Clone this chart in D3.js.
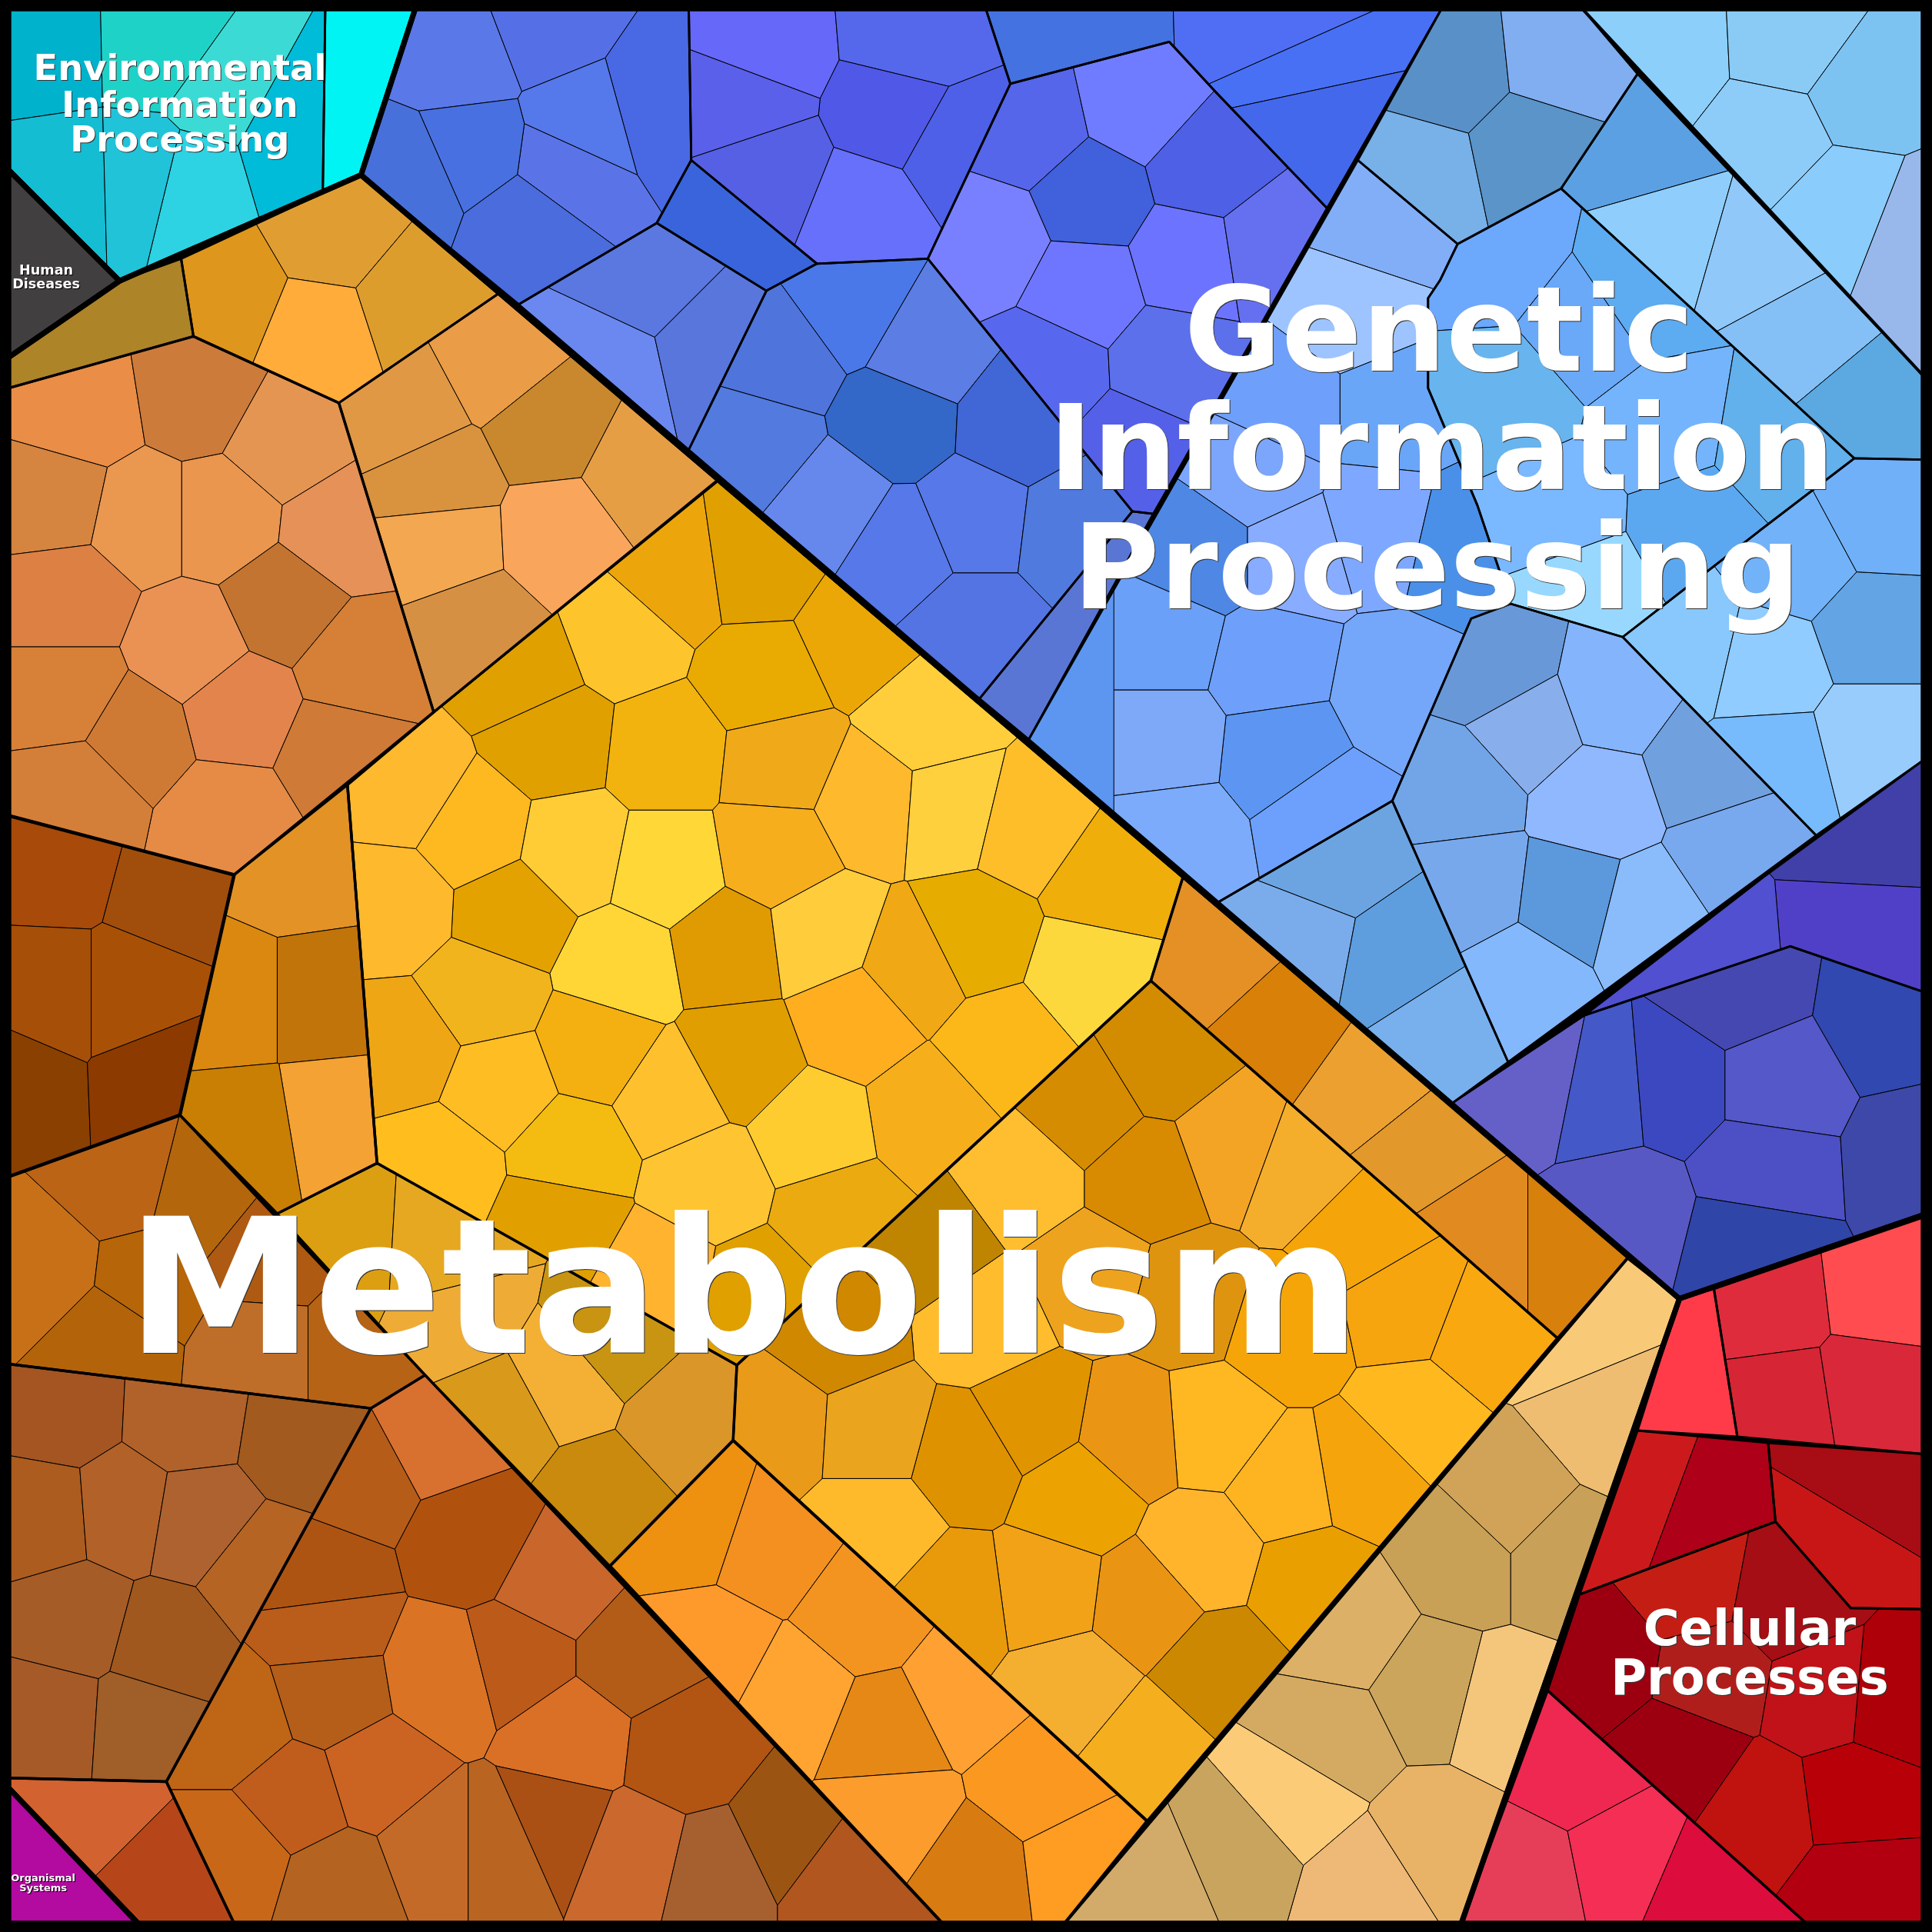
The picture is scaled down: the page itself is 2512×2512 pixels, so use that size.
<!DOCTYPE html>
<html>
<head>
<meta charset="utf-8">
<script src="https://cdn.jsdelivr.net/npm/d3@7"></script>
<style>
  html, body { margin: 0; padding: 0; background: #000; }
  text { font-family: "DejaVu Sans"; font-weight: bold; text-anchor: middle; }
</style>
</head>
<body>
<div id="chart"></div>
<script>

//top level areas
var envOutline = [[7,7],[337,7],[293,142],[97,228],[7,138]];
var humanOutline = [[7,138],[97,228],[7,290]];
var organismalOutline = [[7,1451],[112,1561],[7,1561]];
var geneticOutline = [[337,7],[1561,7],[1561,986],[1363,1054],[293,142]];
var metabolismOutline = [[293,142],[1363,1054],[1186,1561],[112,1561],[7,1451],[7,290],[97,228]];
var cellularOutline = [[1363,1054],[1561,986],[1561,1561],[1186,1561]];

//environmental information processing
var envMainOutline = [[7,7],[264,7],[262,155],[97,228],[7,138]];
var envMainSites = [[35,52],[130,50],[172,80],[237,116],[155,140],[47,134],[122,132]];
var envMainFills = ["#00b2cc","#1fd2c8","#3cdad4","#00bcd8","#2dd3e3","#14bdd2","#20c3d8"];
var envCyanOutline = [[264,7],[337,7],[293,142],[262,155]];
var envCyanSites = [[295,70]];
var envCyanFills = ["#00f4f4"];

//human diseases and organismal systems
var humanSites = [[35,225]];
var humanFills = ["#423f40"];
var organismalSites = [[40,1530]];
var organismalFills = ["#b30aa0"];

//genetic information processing, mid blue families
var blueAOutline = [[337,7],[559,7],[561,130],[533,181],[421,247],[293,142]];
var blueASites = [[375,45],[440,20],[535,85],[473,102],[458,135],[425,180],[385,125],[335,147]];
var blueAFills = ["#5a78e8","#5570e6","#4968e4","#5578ea","#5a74e8","#4a6cdc","#4870e0","#4870da"];

var blueBOutline = [[559,7],[800,7],[820,68],[753,210],[663,214],[561,130]];
var blueBSites = [[620,40],[740,30],[725,92],[605,80],[625,140],[700,170],[775,120]];
var blueBFills = ["#6668fa","#5568ec","#5058e8","#5a60ea","#5660e4","#6670fa","#4e60e8"];

var blueCOutline = [[561,130],[663,214],[622,236],[533,181]];
var blueCSites = [[595,185]];
var blueCFills = ["#3964dc"];

var blueDOutline = [[800,7],[1170,7],[1077,169],[986,74],[949,34],[820,68]];
var blueDSites = [[865,20],[1040,15],[1060,60],[1066,88]];
var blueDFills = ["#4472e0","#4f6ef4","#4870f4","#4468ec"];

var blueEOutline = [[753,210],[820,68],[949,34],[986,74],[1077,169],[936,417],[919,415]];
var blueESites = [[835,105],[925,85],[980,135],[885,160],[805,195],[880,235],[965,210],[1030,200],[850,300],[950,295],[920,365]];
var blueEFills = ["#5566ea","#6f7cff","#4d60e6","#4060dc","#7880ff","#6e76ff","#6c74ff","#6570f0","#5868ee","#5c70ec","#5560e8"];

var blueFOutline = [[421,247],[533,181],[622,236],[559,365]];
var blueFSites = [[490,300],[525,225],[580,280]];
var blueFFills = ["#6b88f0","#5a78e0","#5876dc"];

var blueGOutline = [[622,236],[663,214],[753,210],[919,415],[795,567],[559,365]];
var blueGSites = [[690,250],[750,285],[635,290],[728,340],[615,360],[675,410],[730,445],[790,420],[825,345],[872,430],[790,510]];
var blueGFills = ["#4a78e8","#5b7de4","#4f74dc","#3367c8","#527adf","#6688ec","#5678e8","#5678e8","#4166d6","#507ade","#5474e4"];

var blueHOutline = [[795,567],[919,415],[936,417],[835,600]];
var blueHSites = [[870,505]];
var blueHFills = ["#5a76d4"];

//genetic information processing, light blue families
var skyTopOutline = [[1284,7],[1561,7],[1561,305]];
var skyTopSites = [[1350,40],[1455,35],[1510,75],[1440,110],[1556,188],[1497,165]];
var skyTopFills = ["#8ccffa","#8acbf6","#7dc3f2","#8dccf8","#98b8ec","#8accfc"];

var skyAOutline = [[1170,7],[1284,7],[1329,60],[1267,153],[1183,198],[1102,130]];
var skyASites = [[1175,55],[1270,45],[1150,145],[1245,125]];
var skyAFills = ["#5a90c8","#80aef0","#78b0e8","#5a94c8"];

var skyBOutline = [[1329,60],[1561,305],[1561,373],[1505,372],[1267,153]];
var skyBSites = [[1335,120],[1355,190],[1425,210],[1460,275],[1510,335]];
var skyBFills = ["#5ca0e4","#8fcefc","#90c8fa","#84c0f6","#5ca8e0"];

var skyCOutline = [[1183,198],[1267,153],[1505,372],[1429,430],[1317,517],[1226,490],[1199,410],[1159,315],[1159,242],[1169,227]];
var skyCSites = [[1215,210],[1329,235],[1285,265],[1222,320],[1350,350],[1440,365],[1265,420],[1375,425],[1285,475]];
var skyCFills = ["#6ca8fc","#5dabf0","#6aa8f8","#68b4ee","#74b4fc","#62b0ec","#7ab8ff","#5ca8f0","#98d8ff"];

var skyDOutline = [[1102,130],[1183,198],[1169,227],[1159,242],[1159,315],[1199,410],[1226,490],[1194,502],[1130,650],[989,732],[835,600]];
var skyDSites = [[1125,180],[1100,255],[1130,330],[1045,330],[1020,385],[1120,430],[1185,445],[975,450],[1050,450],[945,520],[1030,540],[1040,610],[945,600],[955,680],[1075,660],[1135,560]];
var skyDFills = ["#82aef8","#9ec4ff","#6aa6f8","#6e9ffa","#7ca6fc","#7ea8ff","#4a90e8","#4e88e4","#88acff","#6aa0f8","#6ea0fb","#5c96f2","#7ea8f8","#7cabfb","#6ca0fc","#74a6fa"];

var skyEdgeOutline = [[835,600],[904,475],[904,660]];
var skyEdgeSites = [[880,590]];
var skyEdgeFills = ["#5c96f0"];

var skyEOutline = [[1194,502],[1226,490],[1317,517],[1474,678],[1224,862],[1130,650]];
var skyESites = [[1215,545],[1240,590],[1310,565],[1385,620],[1410,695],[1295,650],[1185,640],[1195,720],[1275,730],[1335,745],[1235,795]];
var skyEFills = ["#6898d8","#88aeec","#84b4fb","#70a0de","#78a8ee","#90b8fe","#72a4e8","#78a8ec","#5c98dc","#8abcfc","#84b8fc"];

var skyFOutline = [[989,732],[1130,650],[1224,862],[1179,895]];
var skyFSites = [[1080,700],[1055,765],[1135,780],[1170,835]];
var skyFFills = ["#6ca4e2","#7aacec","#5e9ede","#78b0ee"];

var skyGOutline = [[1317,517],[1429,430],[1505,372],[1561,373],[1561,617],[1474,678]];
var skyGSites = [[1370,525],[1435,540],[1440,620],[1520,600],[1520,510],[1460,455],[1525,420]];
var skyGFills = ["#88c8fc","#90ccff","#78bbfc","#98ccfc","#62a4e4","#72b2f8","#70b0f8"];

//genetic information processing, dark blue families
var indigoAOutline = [[1286,824],[1431,712],[1561,617],[1561,805],[1453,768]];
var indigoASites = [[1510,670],[1505,765],[1385,775]];
var indigoAFills = ["#4040a8","#5040c8","#5050d0"];

var indigoBOutline = [[1179,895],[1286,824],[1453,768],[1561,805],[1561,986],[1363,1054]];
var indigoBSites = [[1250,875],[1300,885],[1360,880],[1410,805],[1535,825],[1440,880],[1430,948],[1560,940],[1320,985],[1420,1010]];
var indigoBFills = ["#6460c8","#4458c8","#3c48c0","#4448b0","#3048b0","#5458c8","#4c50c4","#3e48a8","#5858c4","#3045a8"];

//cellular processes
var redOneOutline = [[1363,1054],[1391,1046],[1410,1166],[1329,1161]];
var redOneSites = [[1375,1110]];
var redOneFills = ["#ff3b4a"];

var redAOutline = [[1391,1046],[1561,988],[1561,1180],[1410,1166]];
var redASites = [[1440,1060],[1525,1050],[1450,1135],[1515,1125]];
var redAFills = ["#de2c3c","#ff4c50","#d62534","#d9283a"];

var redBOutline = [[1329,1161],[1435,1171],[1441,1235],[1282,1294]];
var redBSites = [[1333,1192],[1395,1215]];
var redBFills = ["#cc1a1c","#ae0018"];

var redDOutline = [[1435,1171],[1561,1180],[1561,1306],[1502,1305],[1441,1235]];
var redDSites = [[1510,1195],[1475,1253]];
var redDFills = ["#a80c14","#c81616"];

var redEOutline = [[1282,1294],[1441,1235],[1502,1305],[1561,1306],[1561,1561],[1466,1561],[1256,1372]];
var redESites = [[1370,1285],[1450,1300],[1300,1345],[1390,1360],[1365,1425],[1535,1380],[1480,1375],[1430,1470],[1505,1460],[1510,1530]];
var redEFills = ["#c41e14","#a40e14","#9c0010","#b01e1c","#9c0010","#ae0008","#c01218","#c0120e","#b80008","#b20010"];

var redCOutline = [[1256,1372],[1466,1561],[1186,1561]];
var redCSites = [[1280,1440],[1240,1520],[1315,1505],[1385,1535]];
var redCFills = ["#ee2850","#e63e58","#f42e54","#dc0c3c"];

//metabolism, tan family
var tanOutline = [[1321,1021],[1363,1054],[1186,1561],[864,1561]];
var tanSites = [[1280,1075],[1311,1151],[1225,1225],[1262,1262],[1190,1262],[1095,1325],[1160,1370],[1220,1385],[1080,1410],[1050,1460],[1165,1495],[1110,1530],[1005,1500],[935,1530]];
var tanFills = ["#f8ca78","#eebd72","#d0a358","#c8a058","#c8a056","#dcb066","#cca55c","#f4c67c","#d4aa62","#fccb78","#e8b366","#eeb976","#c9a45e","#d2ab6a"];

//metabolism, orange family
var orangeOutline = [[495,1271],[595,1169],[931,1478],[864,1561],[765,1561]];
var orangeSites = [[565,1235],[625,1255],[580,1340],[645,1375],[700,1310],[780,1375],[720,1405],[725,1475],[845,1450],[790,1520],[875,1510]];
var orangeFills = ["#ee9010","#f49020","#fe9a2c","#ffa331","#f39420","#fea032","#e68816","#fc9c2c","#fa9820","#d87c12","#ff9c22"];

//metabolism, bright yellow family
var yellowOutline = [[582,390],[960,712],[934,796],[598,1108],[306,944],[282,637],[352,578]];
var yellowSites = [[545,470],[615,460],[695,515],[505,515],[425,545],[450,600],[540,610],[620,550],[635,620],[705,650],[755,585],[772,655],[835,670],[900,715],[790,760],[885,790],[330,640],[385,675],[465,690],[540,705],[630,690],[415,740],[320,735],[505,785],[590,770],[668,760],[740,785],[695,825],[815,850],[755,905],[390,808],[330,850],[405,880],[485,850],[600,860],[545,890],[355,945],[465,935],[455,990],[660,920],[575,960],[680,985],[615,1050],[535,1035]];
var yellowFills = ["#eca60c","#e0a000","#eba705","#fec42c","#e0a000","#e0a000","#f2b30e","#e9aa02","#f0a918","#ffb92c","#ffce3a","#ffd03e","#febe2a","#f0ae0a","#e7ac00","#fdd83c","#feb92e","#ffb920","#ffcc36","#ffd736","#f6ae1c","#e4a200","#feb92c","#ffd636","#e09a02","#ffcc3c","#f0a814","#ffae20","#fbb818","#f6af1a","#f2b41c","#efa615","#ffbd24","#f3b010","#e09e00","#ffc02e","#ffbe1e","#f4bc10","#e2a000","#ffcc30","#ffc432","#ebaa10","#e0a000","#ffb32f"];

//metabolism, amber family on the upper right
var amberOutline = [[960,712],[1321,1021],[1264,1086],[934,796]];
var amberSites = [[985,775],[1040,835],[1110,885],[1150,935],[1195,1005],[1285,1005]];
var amberFills = ["#e49025","#d88008","#eba030","#e2982a","#e08a20","#d8800c"];

//metabolism, lower golden family
var goldOutline = [[934,796],[1264,1086],[931,1478],[595,1169],[598,1108]];
var goldSites = [[880,900],[945,860],[1000,930],[1055,950],[930,955],[830,955],[885,1035],[965,1055],[1045,1080],[1105,1000],[1140,1060],[1205,1085],[1150,1150],[1105,1195],[985,1160],[1045,1205],[1065,1285],[975,1260],[920,1165],[875,1215],[930,1300],[990,1355],[870,1370],[930,1420],[850,1290],[775,1300],[785,1180],[835,1150],[800,1075],[755,1010],[680,1085],[630,1155],[710,1160],[710,1240]];
var goldFills = ["#d68c00","#d38c00","#f4a425","#f4ae2c","#d88a00","#ffbd30","#eea31e","#df9410","#f6a508","#f5a50a","#f7a50e","#f9a810","#ffb81e","#f5a40c","#ffb722","#feb420","#ea9f00","#ffb42c","#ea9614","#eca200","#ea9414","#cc8800","#f4ae30","#f5ae1e","#f2a216","#e99a0a","#df9200","#e09400","#ffbc2c","#bf8500","#d08800","#e99a18","#eba41e","#ffba2c"];

//metabolism, small families on the upper left
var oliveOutline = [[97,228],[147,210],[157,273],[7,315],[7,290]];
var oliveSites = [[95,265]];
var oliveFills = ["#ad8428"];

var ochreOutline = [[147,210],[293,142],[405,238],[275,327],[157,273]];
var ochreSites = [[185,240],[270,190],[258,270],[335,245]];
var ochreFills = ["#df961c","#e09e32","#ffac3b","#dd9d2d"];

var beigeOutline = [[405,238],[583,390],[352,578],[275,327]];
var beigeSites = [[330,335],[405,295],[445,345],[522,385],[355,390],[360,440],[455,435],[385,510]];
var beigeFills = ["#e09845","#ea9c46","#c9882e","#e69e45","#d9923e","#f3a750","#f9a65c","#d69044"];

//metabolism, peach family
var peachOutline = [[7,315],[157,273],[275,327],[352,578],[190,710],[7,662]];
var peachSites = [[65,335],[160,320],[232,360],[45,405],[115,420],[180,420],[275,430],[230,490],[55,485],[155,525],[195,575],[290,540],[275,610],[185,665],[108,597],[55,565],[65,640]];
var peachFills = ["#ea8d46","#cc7b3a","#e59552","#d58540","#ea9750","#ea964e","#e59158","#c27430","#dc8044","#ea9254","#e2844c","#d58036","#cf7a36","#e58b46","#cf7a34","#d78038","#d47f39"];

var tawnyOutline = [[190,710],[282,637],[306,944],[225,985],[146,905]];
var tawnySites = [[240,705],[195,810],[255,810],[265,910],[205,920]];
var tawnyFills = ["#e39226","#da880f","#c0740a","#f3a233","#c97f04"];

var darkOutline = [[7,662],[190,710],[146,905],[7,955]];
var darkSites = [[45,700],[140,725],[40,805],[108,805],[8,880],[135,875]];
var darkFills = ["#a74a0a","#a14e0c","#a64f08","#a85106","#8a4000","#8c3a00"];

var mustardOutline = [[225,985],[306,944],[598,1108],[595,1169],[495,1271],[345,1116]];
var mustardSites = [[275,1020],[360,1025],[370,1065],[405,1150],[460,1120],[495,1090],[555,1155],[490,1215]];
var mustardFills = ["#dc9f12","#e6a820","#eeac36","#d9991a","#f3b034","#c89412","#da9628","#ca8a0e"];

//metabolism, brown families
var brownAOutline = [[7,955],[146,905],[345,1116],[301,1143],[7,1107]];
var brownASites = [[35,1030],[100,960],[160,975],[215,1020],[120,1040],[90,1085],[210,1095],[290,1095]];
var brownAFills = ["#c87018","#bc6416","#b3660c","#ae5a12","#b66508","#b3640a","#be6e28","#b66316"];

var brownBOutline = [[7,1107],[301,1143],[135,1446],[7,1443]];
var brownBSites = [[50,1145],[150,1150],[245,1165],[35,1230],[100,1225],[160,1235],[210,1275],[60,1315],[135,1335],[40,1395],[115,1400]];
var brownBFills = ["#a45522","#b0622a","#a25a1e","#ac5c1e","#b26228","#ae6230","#b56424","#a65c26","#a0581e","#a65a28","#a05e28"];

var brownCOutline = [[7,1443],[135,1446],[190,1561],[112,1561],[7,1451]];
var brownCSites = [[75,1470],[130,1525]];
var brownCFills = ["#d26230","#b6461a"];

var brownDOutline = [[301,1143],[345,1116],[765,1561],[190,1561],[135,1446]];
var brownDSites = [[355,1165],[290,1200],[385,1250],[260,1281],[265,1320],[270,1375],[190,1400],[360,1360],[420,1345],[450,1285],[515,1345],[465,1410],[555,1420],[305,1440],[240,1460],[190,1505],[275,1530],[355,1500],[405,1500],[450,1480],[515,1505],[580,1520],[642,1490],[682,1520]];
var brownDFills = ["#d87030","#b55c18","#b0520e","#ae5412","#ba5c1a","#b45e1a","#bf6516","#da7424","#bc5a1a","#c8662c","#b25c18","#da6f26","#b25412","#cb6422","#c05c1c","#c86718","#b46420","#c46a28","#ba6422","#aa5014","#ca682e","#a66030","#9c5412","#b0561e"];

//labels
var labelLines = [
    ["Environmental","Information","Processing"],
    ["Human","Diseases"],
    ["Organismal","Systems"],
    ["Genetic","Information","Processing"],
    ["Metabolism"],
    ["Cellular","Processes"]
];
var labelCentres = [[146,146,146],[37.5,37.5],[35,35],[1168,1170,1166],[603.5],[1420,1420]];
var labelBaselines = [[65,95,123],[223,234],[1527,1535],[301,397,494],[1098],[1335,1375]];
var labelSizes = [46.4,17.6,13,154,245,64];

function init() {
    var size = 2512;
    var x = d3.scaleLinear().domain([0, 1568]).range([0, size]);
    var y = d3.scaleLinear().domain([0, 1568]).range([0, size]);

    var svg = d3.select("#chart")
        .append("svg")
        .attr("width", size)
        .attr("height", size)
        .style("display", "block");

    var outlinePath = d3.line()
        .x(function (d) { return x(d[0]); })
        .y(function (d) { return y(d[1]); })
        .curve(d3.curveLinearClosed);

    //the families, each cut up into cells around its sites
    var families = [
        [envMainOutline, envMainSites, envMainFills, 2.8],
        [envCyanOutline, envCyanSites, envCyanFills, 2.8],
        [humanOutline, humanSites, humanFills, 2.8],
        [organismalOutline, organismalSites, organismalFills, 2.8],
        [blueAOutline, blueASites, blueAFills, 2.8],
        [blueBOutline, blueBSites, blueBFills, 2.8],
        [blueCOutline, blueCSites, blueCFills, 2.8],
        [blueDOutline, blueDSites, blueDFills, 2.8],
        [blueEOutline, blueESites, blueEFills, 2.8],
        [blueFOutline, blueFSites, blueFFills, 2.8],
        [blueGOutline, blueGSites, blueGFills, 2.8],
        [blueHOutline, blueHSites, blueHFills, 2.8],
        [skyTopOutline, skyTopSites, skyTopFills, 4],
        [skyAOutline, skyASites, skyAFills, 2.8],
        [skyBOutline, skyBSites, skyBFills, 2.8],
        [skyCOutline, skyCSites, skyCFills, 2.8],
        [skyDOutline, skyDSites, skyDFills, 2.8],
        [skyEdgeOutline, skyEdgeSites, skyEdgeFills, 1],
        [skyEOutline, skyESites, skyEFills, 2.8],
        [skyFOutline, skyFSites, skyFFills, 2.8],
        [skyGOutline, skyGSites, skyGFills, 2.8],
        [indigoAOutline, indigoASites, indigoAFills, 2.8],
        [indigoBOutline, indigoBSites, indigoBFills, 2.8],
        [redOneOutline, redOneSites, redOneFills, 3],
        [redAOutline, redASites, redAFills, 3],
        [redBOutline, redBSites, redBFills, 3],
        [redDOutline, redDSites, redDFills, 3],
        [redEOutline, redESites, redEFills, 3],
        [redCOutline, redCSites, redCFills, 3.5],
        [tanOutline, tanSites, tanFills, 4],
        [orangeOutline, orangeSites, orangeFills, 4],
        [yellowOutline, yellowSites, yellowFills, 3.5],
        [amberOutline, amberSites, amberFills, 3],
        [goldOutline, goldSites, goldFills, 3.5],
        [oliveOutline, oliveSites, oliveFills, 3],
        [ochreOutline, ochreSites, ochreFills, 3],
        [beigeOutline, beigeSites, beigeFills, 3],
        [peachOutline, peachSites, peachFills, 3.5],
        [tawnyOutline, tawnySites, tawnyFills, 3.5],
        [darkOutline, darkSites, darkFills, 4.5],
        [mustardOutline, mustardSites, mustardFills, 3],
        [brownAOutline, brownASites, brownAFills, 3.5],
        [brownBOutline, brownBSites, brownBFills, 3.5],
        [brownCOutline, brownCSites, brownCFills, 3.5],
        [brownDOutline, brownDSites, brownDFills, 3.5]
    ];

    var defs = svg.append("defs");
    var cells = svg.append("g");
    var lines = svg.append("g").attr("fill", "none").attr("stroke", "#000").attr("stroke-linejoin", "round");

    families.forEach(function (family, n) {
        var outline = family[0], sites = family[1], fills = family[2];

        defs.append("clipPath")
            .attr("id", "family" + n)
            .append("path")
            .attr("d", outlinePath(outline));

        var g = cells.append("g").attr("clip-path", "url(#family" + n + ")");

        //backing, also the whole family when it only has one cell
        g.append("path")
            .attr("d", outlinePath(outline))
            .attr("fill", fills[0]);

        if (sites.length > 1) {
            var voronoi = d3.Delaunay
                .from(sites, function (d) { return x(d[0]); }, function (d) { return y(d[1]); })
                .voronoi([0, 0, size, size]);

            g.selectAll("path.cell")
                .data(sites)
                .enter()
                .append("path")
                .attr("class", "cell")
                .attr("d", function (d, i) { return voronoi.renderCell(i); })
                .attr("fill", function (d, i) { return fills[i]; })
                .attr("stroke", "#000")
                .attr("stroke-width", 1);
        }

        lines.append("path")
            .attr("d", outlinePath(outline))
            .attr("stroke-width", family[3]);
    });

    //thick lines around the top level areas
    [envOutline, humanOutline, organismalOutline, geneticOutline, metabolismOutline, cellularOutline]
        .forEach(function (outline) {
            lines.append("path")
                .attr("d", outlinePath(outline))
                .attr("stroke-width", 7);
        });

    //frame
    svg.append("rect")
        .attr("x", 6)
        .attr("y", 6)
        .attr("width", size - 12)
        .attr("height", size - 12)
        .attr("fill", "none")
        .attr("stroke", "#000")
        .attr("stroke-width", 12);

    //labels, with a small shadow
    labelLines.forEach(function (rows, n) {
        var fontSize = labelSizes[n];
        var shadow = fontSize < 30 ? "drop-shadow(1px 1px 0.6px #000)" : "drop-shadow(1.6px 1.6px 0.6px #333)";
        rows.forEach(function (row, r) {
            svg.append("text")
                .attr("x", x(labelCentres[n][r]))
                .attr("y", y(labelBaselines[n][r]))
                .attr("font-size", fontSize)
                .attr("fill", "#fff")
                .style("filter", shadow)
                .text(row);
        });
    });
}

window.onload = init;
</script>
</body>
</html>
